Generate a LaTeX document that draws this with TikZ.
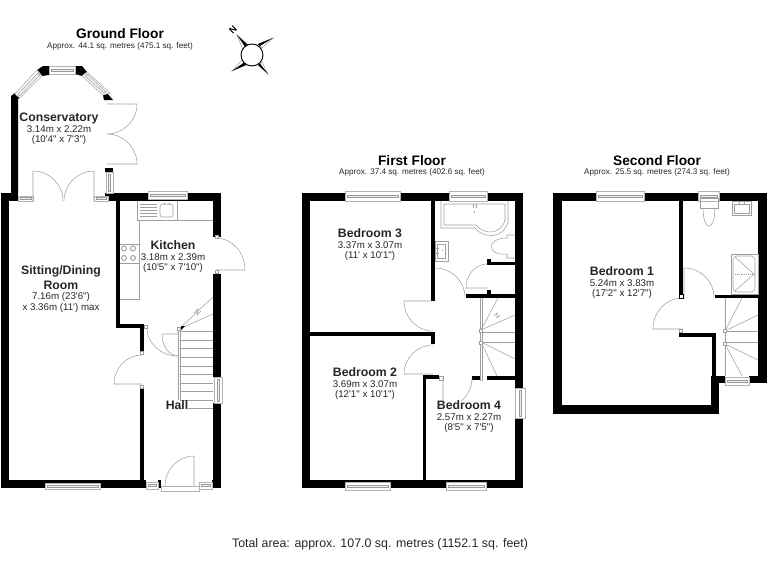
\documentclass[tikz,border=0pt]{standalone}
\usepackage{fontspec}
\usetikzlibrary{calc}
\newfontfamily\planfont{Liberation Sans}
\newcommand{\roomname}[1]{{\fontsize{9.2}{8}\selectfont\bfseries #1}}
% window as a box with a band down the middle
\newcommand{\winh}[4]{\draw[windowbox] (#1,#3) rectangle (#2,#4);
  \draw[windowline] ({#1+2},{(#3+#4)/2-1}) rectangle ({#2-2},{(#3+#4)/2+1});}
\newcommand{\winv}[4]{\draw[windowbox] (#1,#3) rectangle (#2,#4);
  \draw[windowline] ({(#1+#2)/2-1},{#3+2}) rectangle ({(#1+#2)/2+1},{#4-2});}
% leaf from hinge to open end, then the swing round the corner to the closed end
\newcommand{\door}[4]{\draw[fitting] (#1) -- (#2) .. controls ($(#2)!.55!(#3)$) and ($(#4)!.55!(#3)$) .. (#4);}
\newcommand{\swing}[3]{\draw[fitting] (#1) .. controls ($(#1)!.55!(#2)$) and ($(#3)!.55!(#2)$) .. (#3);}
\newcommand{\jamb}[2]{\draw[fitting, fill=white] ({#1-1.7},{#2-1.7}) rectangle ({#1+1.7},{#2+1.7});}

\begin{document}
\begin{tikzpicture}[x=0.75pt, y=-0.75pt, font=\planfont]
    % --- Styles ---
    \tikzstyle{wall}=[fill=black]
    \tikzstyle{fitting}=[draw=gray!75, line width=0.4pt]
    \tikzstyle{windowbox}=[draw=gray!60, fill=white, line width=0.5pt]
    \tikzstyle{windowline}=[draw=gray!80, fill=gray!12, line width=0.35pt]
    \tikzstyle{floortitle}=[font=\planfont\fontsize{10.3}{13}\selectfont\bfseries]
    \tikzstyle{floorarea}=[font=\planfont\fontsize{6.1}{8}\selectfont, text=black!85]
    \tikzstyle{room}=[font=\planfont\fontsize{7.3}{7.9}\selectfont, align=center, fill=white, inner sep=0pt, text=black!85]

    \useasboundingbox (0,0) rectangle (768,576);

    % --- 1. Ground Floor walls ---
    \fill[wall] (1,193) rectangle (18,201);
    \fill[wall] (1,193) rectangle (9,488);
    \fill[wall] (1,480) rectangle (146,488);
    \fill[wall] (158,480) rectangle (161,488);
    \fill[wall] (212,480) rectangle (221,488);
    \fill[wall] (105,193) rectangle (221,201);
    \fill[wall] (213,193) rectangle (221,237);
    \fill[wall] (213,274) rectangle (221,377);
    \fill[wall] (213,403) rectangle (221,488);
    \fill[wall] (116,200) rectangle (120,328);
    \fill[wall] (116,324) rectangle (144,328);
    \fill[wall] (140,324) rectangle (144,352);
    \fill[wall] (140,388) rectangle (144,480);

    % Conservatory corners
    \fill[wall] (11,96) -- (15,93) -- (19.5,97.5) -- (18,99) -- (18,193) -- (11,193) -- cycle;
    \fill[wall] (37,70) -- (43,66) -- (49,66) -- (49,75) -- (42,76) -- cycle;
    \fill[wall] (75,66) -- (82,66) -- (87,72) -- (82,76) -- (75,74) -- cycle;
    \fill[wall] (103,95) -- (107,93) -- (113,100) -- (104,100) -- cycle;
    \fill[wall] (105,168) rectangle (113,172);

    % --- 2. Ground Floor windows and doors ---
    \winh{49}{75}{66}{74}
    \draw[windowbox] (15,94) -- (37,70) -- (42,76) -- (20,98) -- cycle;
    \draw[windowline] (18,94) -- (38,73) -- (40,75) -- (20,96) -- cycle;
    \draw[windowbox] (82,76) -- (87,72) -- (110,93) -- (103,95) -- cycle;
    \draw[windowline] (85,76) -- (87,74) -- (106,92) -- (104,93) -- cycle;
    \winv{106}{113}{172}{193}
    \winh{18}{33}{196}{201}
    \winh{94}{108}{196}{201}
    \winh{148}{187}{191}{199}
    \winh{45}{100}{483}{489}
    \winh{146}{158}{482}{489}
    \winh{199}{212}{482}{489}
    \winv{214}{222}{377}{403}
    \draw[windowbox] (161,486) rectangle (199,491);

    \door{33,201}{33,171}{63,171}{63,201}
    \door{94,201}{94,171}{64,171}{64,201}
    \door{107,104}{137,104}{137,134}{107,134}
    \door{107,164}{137,164}{137,134}{107,134}
    \door{216,270}{245,270}{245,238}{216,238}
    \door{142,384}{114,384}{114,355}{142,355}
    \door{194,486}{194,456}{165,456}{165,486}
    \swing{147,328}{147,356}{178,356}
    \door{178,334}{162,334}{162,356}{178,356}
    \jamb{217}{237}
    \jamb{217}{272}
    \jamb{142}{353}
    \jamb{142}{387}
    \jamb{146}{327}

    % Kitchen fittings
    \draw[fitting] (137,201) -- (137,220) -- (213,220) (177,201) -- (177,220);
    \draw[fitting] (139.5,220) -- (139.5,299) -- (120,299);
    \draw[fitting] (120,244) -- (139.5,244) (120,263) -- (139.5,263);
    \foreach \hobx in {124,133} {
        \foreach \hoby in {248.5,258} {
            \draw[fitting, line width=0.7pt] (\hobx,\hoby) circle (2.5);
        }
    }
    \draw[fitting, rounded corners=2pt] (160,204) rectangle (173,217);
    \foreach \drainy in {204,207,210,213,216} {
        \draw[fitting] (140,\drainy) -- (157,\drainy);
    }
    \draw[fitting, line width=0.7pt] (164,203) -- (164,205) (169,203) -- (169,205);

    % Stairs
    \draw[fitting] (178,331) -- (178,400) (180,331) -- (180,400);
    \foreach \tready in {331,340,348,357,366,374,383,391,400,408} {
        \draw[fitting] (180,\tready) -- (213,\tready);
    }
    \draw[fitting] (179,329) -- (213,297) (179,329) -- (213,314);
    \draw[fitting] (194,313) -- (198,309) -- (197,315) -- (201,311);
    \jamb{179}{329}
    \fill[wall] (181,326) -- (185,326) -- (181,330) -- cycle;

    % --- 3. First Floor walls ---
    \fill[wall] (302,193) rectangle (523,201);
    \fill[wall] (302,193) rectangle (310,488);
    \fill[wall] (302,480) rectangle (523,488);
    \fill[wall] (515,193) rectangle (523,388);
    \fill[wall] (515,418) rectangle (523,488);
    \fill[wall] (431,201) rectangle (434.5,301);
    \fill[wall] (310,332) rectangle (434.5,336);
    \fill[wall] (431,332) rectangle (434.5,344);
    \fill[wall] (422.5,376) rectangle (426,480);
    \fill[wall] (422.5,375) rectangle (439,379);
    \fill[wall] (472,376) rectangle (480,380);
    \fill[wall] (487,376) rectangle (515,380);
    \fill[wall] (487,259) rectangle (491,265);
    \fill[wall] (487,262) rectangle (515,265);
    \fill[wall] (466,294) rectangle (515,298);
    \fill[wall] (487,290) rectangle (491,298);

    % --- 4. First Floor windows and doors ---
    \winh{345}{400}{191}{201}
    \winh{449}{487}{191}{201}
    \winh{345}{390}{482}{490}
    \winh{446}{486}{482}{490}
    \winv{515}{525}{388}{418}

    \door{433,301}{404,301}{404,331}{433,331}
    \door{433,374}{404,374}{404,345}{433,345}
    \door{443,378}{443,408}{472,408}{472,378}
    \swing{435,268}{465,268}{465,297}
    \door{487,288}{466,288}{466,264}{487,264}
    \draw[fitting] (439,376) rectangle (443,380);

    % Bath, basin and toilet
    \draw[fitting] (441,201) -- (441,228) -- (475,228) .. controls (482,238) and (503,240) .. (508,222) -- (508,201);
    \draw[fitting] (444,204) -- (444,225) -- (476,225) .. controls (484,235) and (501,235) .. (505,220) -- (505,204) -- cycle;
    \draw[fitting, line width=0.7pt] (473,204) -- (473,208) (476,204) -- (476,208) (474.5,211) -- (474.5,213);
    \draw[fitting] (435,241) rectangle (448,261) (437,244) rectangle (445,258);
    \draw[fitting, line width=0.7pt] (435,248) -- (439,248) (435,253) -- (439,253) (442,250) -- (442,251);
    \draw[fitting] (515,235) -- (507,235) -- (507,238) .. controls (486,238) and (486,256) .. (507,254) -- (507,258) -- (515,258);

    % Stairs
    \draw[fitting] (480.5,298) -- (480.5,381) (482,298) -- (482,381);
    \draw[fitting] (481,330) -- (498,298) (481,330) -- (515,315);
    \draw[fitting] (482,332) -- (515,332) (482,342) -- (515,342);
    \draw[fitting] (481,342) -- (515,359) (481,342) -- (497,376);
    \draw[fitting] (494,316) -- (497,313) -- (497,318) -- (500,315);
    \jamb{481}{331}
    \jamb{481}{343}

    % --- 5. Second Floor walls ---
    \fill[wall] (553,193) rectangle (767,201);
    \fill[wall] (553,193) rectangle (562,414);
    \fill[wall] (553,405) rectangle (719,414);
    \fill[wall] (758,193) rectangle (767,383);
    \fill[wall] (711,376) rectangle (725,383);
    \fill[wall] (749,376) rectangle (767,383);
    \fill[wall] (711,376) rectangle (719,414);
    \fill[wall] (712,333) rectangle (715.5,376);
    \fill[wall] (679,333) rectangle (715.5,337);
    \fill[wall] (679,201) rectangle (683,295);
    \fill[wall] (715,295) rectangle (758,298);

    % --- 6. Second Floor windows and doors ---
    \winh{596}{644}{191}{201}
    \winh{698}{719}{191}{201}
    \winh{725}{749}{377}{385}

    \door{682,329}{653,329}{653,298}{682,298}
    \door{684,298}{684,268}{714,268}{714,297}
    \draw[black, fill=white, line width=0.6pt] (679,294) rectangle (683,298);
    \jamb{681}{331}

    % Toilet, basin and shower
    \draw[fitting] (700,198) rectangle (718,208);
    \draw[fitting] (703,208) .. controls (703,232) and (715,232) .. (715,208);
    \draw[fitting] (732,201) rectangle (751,215) (734,204) rectangle (749,213);
    \draw[fitting, line width=0.7pt] (739,201) -- (739,204) (744,201) -- (744,204);
    \draw[fitting] (731,254) rectangle (758,294);
    \draw[fitting, rounded corners=3pt] (733,256) rectangle (755,292);
    \draw[fitting] (735,257) -- (754,274) -- (735,291);
    \draw[fitting, densely dotted] (735,274) -- (754,274);

    % Stairs
    \draw[fitting] (725,298) -- (725,376);
    \draw[fitting] (725,331) -- (742,298) (725,331) -- (758,315);
    \draw[fitting] (726,331) -- (758,331) (726,342) -- (758,342);
    \draw[fitting] (725,344) -- (758,360) (725,344) -- (742,376);
    \jamb{725}{331}
    \jamb{725}{344}

    % --- 7. Compass ---
    \draw[fitting, fill=white] (237,35) -- (248,45) -- (243,50) -- cycle;
    \draw[fitting, fill=white] (273,38) -- (262,48) -- (258,44) -- cycle;
    \draw[fitting, fill=white] (232,71) -- (246,65) -- (242,60) -- cycle;
    \draw[fitting, fill=white] (268,74) -- (262,62) -- (258,65) -- cycle;
    \fill[wall] (237,35) -- (248,45) -- (245.5,47.5) -- cycle;
    \fill[wall] (273,38) -- (258,44) -- (260,46) -- cycle;
    \fill[wall] (232,71) -- (246,65) -- (244,62.5) -- cycle;
    \fill[wall] (268,74) -- (258,65) -- (260,63.5) -- cycle;
    \draw[black, fill=white, line width=0.7pt] (252,55) circle (11);
    \node[font=\planfont\fontsize{7}{8}\selectfont\bfseries, rotate=45] (north) at (233,30) {N};

    % --- 8. Titles ---
    \node[floortitle] (groundtitle) at (120,34) {Ground Floor};
    \node[floorarea] (groundarea) at (120,46) {Approx. 44.1 sq. metres (475.1 sq. feet)};
    \node[floortitle] (firsttitle) at (412,161) {First Floor};
    \node[floorarea] (firstarea) at (412,172) {Approx. 37.4 sq. metres (402.6 sq. feet)};
    \node[floortitle] (secondtitle) at (657,161) {Second Floor};
    \node[floorarea] (secondarea) at (657,172) {Approx. 25.5 sq. metres (274.3 sq. feet)};
    \node[font=\planfont\fontsize{9.3}{11}\selectfont, text=black!85] (totalarea) at (380,544) {Total area: approx. 107.0 sq. metres (1152.1 sq. feet)};

    % --- 9. Rooms ---
    \node[room] (conservatory) at (59,129) {\roomname{Conservatory}\\3.14m x 2.22m\\(10'4" x 7'3")};
    \node[room] (sitting) at (61,289) {\roomname{Sitting/Dining}\\[2pt]\roomname{Room}\\7.16m (23'6")\\x 3.36m (11') max};
    \node[room] (kitchen) at (173,257) {\roomname{Kitchen}\\3.18m x 2.39m\\(10'5" x 7'10")};
    \node[room] (hall) at (177,405) {\roomname{Hall}};
    \node[room] (bedroomthree) at (370,245) {\roomname{Bedroom 3}\\3.37m x 3.07m\\(11' x 10'1")};
    \node[room] (bedroomtwo) at (365,384) {\roomname{Bedroom 2}\\3.69m x 3.07m\\(12'1" x 10'1")};
    \node[room] (bedroomfour) at (469,417) {\roomname{Bedroom 4}\\2.57m x 2.27m\\(8'5" x 7'5")};
    \node[room] (bedroomone) at (622,283) {\roomname{Bedroom 1}\\5.24m x 3.83m\\(17'2" x 12'7")};
\end{tikzpicture}
\end{document}
